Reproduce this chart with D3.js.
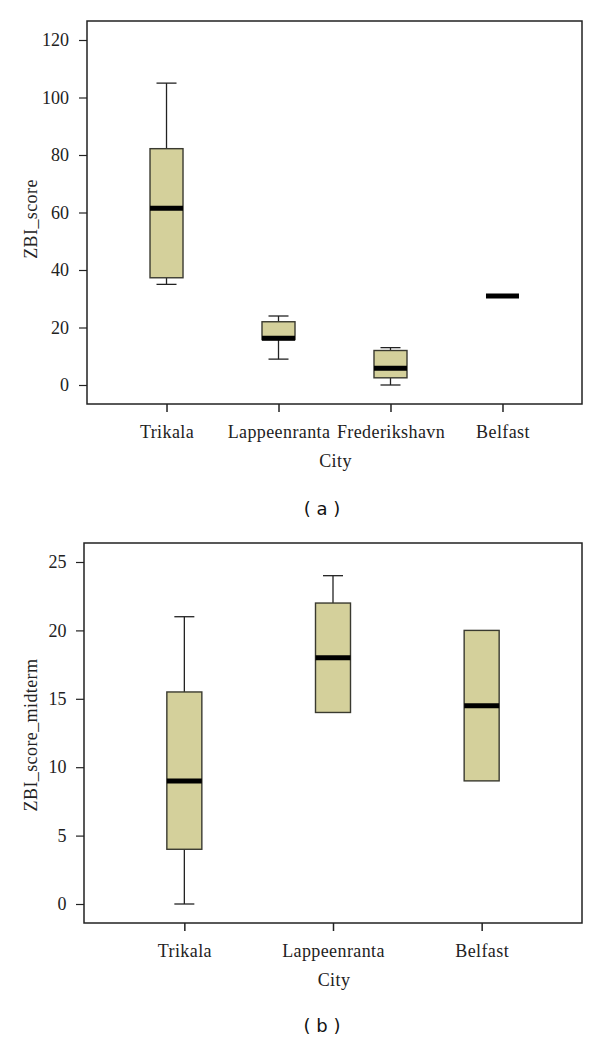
<!DOCTYPE html>
<html>
<head>
<meta charset="utf-8">
<script src="https://cdn.jsdelivr.net/npm/d3@7"></script>
<style>
html,body{margin:0;padding:0;background:#fff;}
svg{display:block;}
</style>
</head>
<body>
<svg id="chart" width="600" height="1041"></svg>
<script>
// ---- Panel (a) data ----
const citiesA = ["Trikala", "Lappeenranta", "Frederikshavn", "Belfast"];
const minA = [35, 9, 0, 31];
const q1A = [37.3, 15.8, 2.5, 31];
const medianA = [61.5, 16.3, 5.8, 31];
const q3A = [82.2, 22, 12, 31];
const maxA = [105, 24, 13, 31];
const ticksA = [0, 20, 40, 60, 80, 100, 120];

// ---- Panel (b) data ----
const citiesB = ["Trikala", "Lappeenranta", "Belfast"];
const minB = [0, 14, 9];
const q1B = [4, 14, 9];
const medianB = [9, 18, 14.5];
const q3B = [15.5, 22, 20];
const maxB = [21, 24, 20];
const ticksB = [0, 5, 10, 15, 20, 25];

const svg = d3.select("#chart");
const serif = "'Liberation Serif', 'DejaVu Serif', serif";
const sans = "'DejaVu Sans', 'Noto Sans', sans-serif";
const fill = "#d4d09b";
const FS = 18;
const LS = 0.4;

function panel(cfg) {
  const g = svg.append("g");
  const x = d3.scalePoint().domain(cfg.cities).range([cfg.left, cfg.right]).padding(cfg.pad);
  const y = d3.scaleLinear().domain([cfg.ticks[0], cfg.ticks[cfg.ticks.length - 1]]).range([cfg.y0, cfg.yTop]);

  // frame
  g.append("rect")
    .attr("x", cfg.left).attr("y", cfg.top)
    .attr("width", cfg.right - cfg.left).attr("height", cfg.bottom - cfg.top)
    .attr("fill", "none").attr("stroke", "#222").attr("stroke-width", 1.5);

  // y axis
  const ya = g.append("g").attr("transform", `translate(${cfg.left},0)`)
    .call(d3.axisLeft(y).tickValues(cfg.ticks).tickSize(8).tickPadding(cfg.ypad).tickFormat(d3.format("d")));
  ya.attr("font-family", serif).attr("font-size", FS);
  ya.select(".domain").remove();
  ya.selectAll(".tick line").attr("stroke", "#222").attr("stroke-width", 1.2);
  ya.selectAll(".tick text").style("font-family", serif).style("font-size", FS + "px").attr("fill", "#222");

  // x axis
  const xa = g.append("g").attr("transform", `translate(0,${cfg.bottom})`)
    .call(d3.axisBottom(x).tickSize(8).tickPadding(13));
  xa.attr("font-family", serif).attr("font-size", FS);
  xa.select(".domain").remove();
  xa.selectAll(".tick line").attr("stroke", "#222").attr("stroke-width", 1.5);
  xa.selectAll(".tick text").style("font-family", serif).style("font-size", FS + "px")
    .style("letter-spacing", LS + "px").attr("fill", "#222");

  const idx = cfg.cities.map((c, i) => i);
  const bw = cfg.boxW, cw = cfg.capW;

  idx.forEach(i => {
    const cx = x(cfg.cities[i]);
    if (cfg.max[i] > cfg.q3[i]) {
      g.append("line").attr("x1", cx).attr("x2", cx).attr("y1", y(cfg.q3[i])).attr("y2", y(cfg.max[i]))
        .attr("stroke", "#222").attr("stroke-width", 1.3);
      g.append("line").attr("x1", cx - cw / 2).attr("x2", cx + cw / 2).attr("y1", y(cfg.max[i])).attr("y2", y(cfg.max[i]))
        .attr("stroke", "#222").attr("stroke-width", 1.3);
    }
    if (cfg.min[i] < cfg.q1[i]) {
      g.append("line").attr("x1", cx).attr("x2", cx).attr("y1", y(cfg.q1[i])).attr("y2", y(cfg.min[i]))
        .attr("stroke", "#222").attr("stroke-width", 1.3);
      g.append("line").attr("x1", cx - cw / 2).attr("x2", cx + cw / 2).attr("y1", y(cfg.min[i])).attr("y2", y(cfg.min[i]))
        .attr("stroke", "#222").attr("stroke-width", 1.3);
    }
    if (cfg.q3[i] > cfg.q1[i]) {
      g.append("rect").attr("x", cx - bw / 2).attr("y", y(cfg.q3[i]))
        .attr("width", bw).attr("height", y(cfg.q1[i]) - y(cfg.q3[i]))
        .attr("fill", fill).attr("stroke", "#3a3a30").attr("stroke-width", 1.4);
    }
    g.append("line").attr("x1", cx - bw / 2).attr("x2", cx + bw / 2)
      .attr("y1", y(cfg.median[i])).attr("y2", y(cfg.median[i]))
      .attr("stroke", "#000").attr("stroke-width", 5);
  });

  // axis titles
  g.append("text").attr("x", (cfg.left + cfg.right) / 2 + 1).attr("y", cfg.cityY)
    .attr("text-anchor", "middle").attr("font-family", serif).attr("font-size", FS)
    .style("letter-spacing", LS + "px").attr("fill", "#222").text("City");
  g.append("text").attr("transform", `translate(${cfg.ylabX},${cfg.ylabY}) rotate(-90)`)
    .attr("text-anchor", "middle").attr("font-family", serif).attr("font-size", FS)
    .style("letter-spacing", LS + "px").attr("fill", "#222").text(cfg.ylab);
  g.append("text").attr("x", 322).attr("y", cfg.capY)
    .attr("text-anchor", "middle").attr("font-family", sans).attr("font-size", 18).attr("fill", "#111")
    .style("white-space", "pre").text(cfg.caption);
}

panel({
  cities: citiesA, min: minA, q1: q1A, median: medianA, q3: q3A, max: maxA, ticks: ticksA,
  left: 87, right: 582, top: 21, bottom: 404, pad: 0.71,
  y0: 385, yTop: 40, boxW: 33, capW: 20, ypad: 10,
  cityY: 467, ylab: "ZBI_score", ylabX: 37, ylabY: 219, capY: 515, caption: "( a )"
});

panel({
  cities: citiesB, min: minB, q1: q1B, median: medianB, q3: q3B, max: maxB, ticks: ticksB,
  left: 84, right: 582, top: 543, bottom: 923, pad: 0.675,
  y0: 904, yTop: 562, boxW: 35, capW: 20, ypad: 9.5,
  cityY: 986, ylab: "ZBI_score_midterm", ylabX: 37, ylabY: 735, capY: 1032, caption: "( b )"
});
</script>
</body>
</html>
